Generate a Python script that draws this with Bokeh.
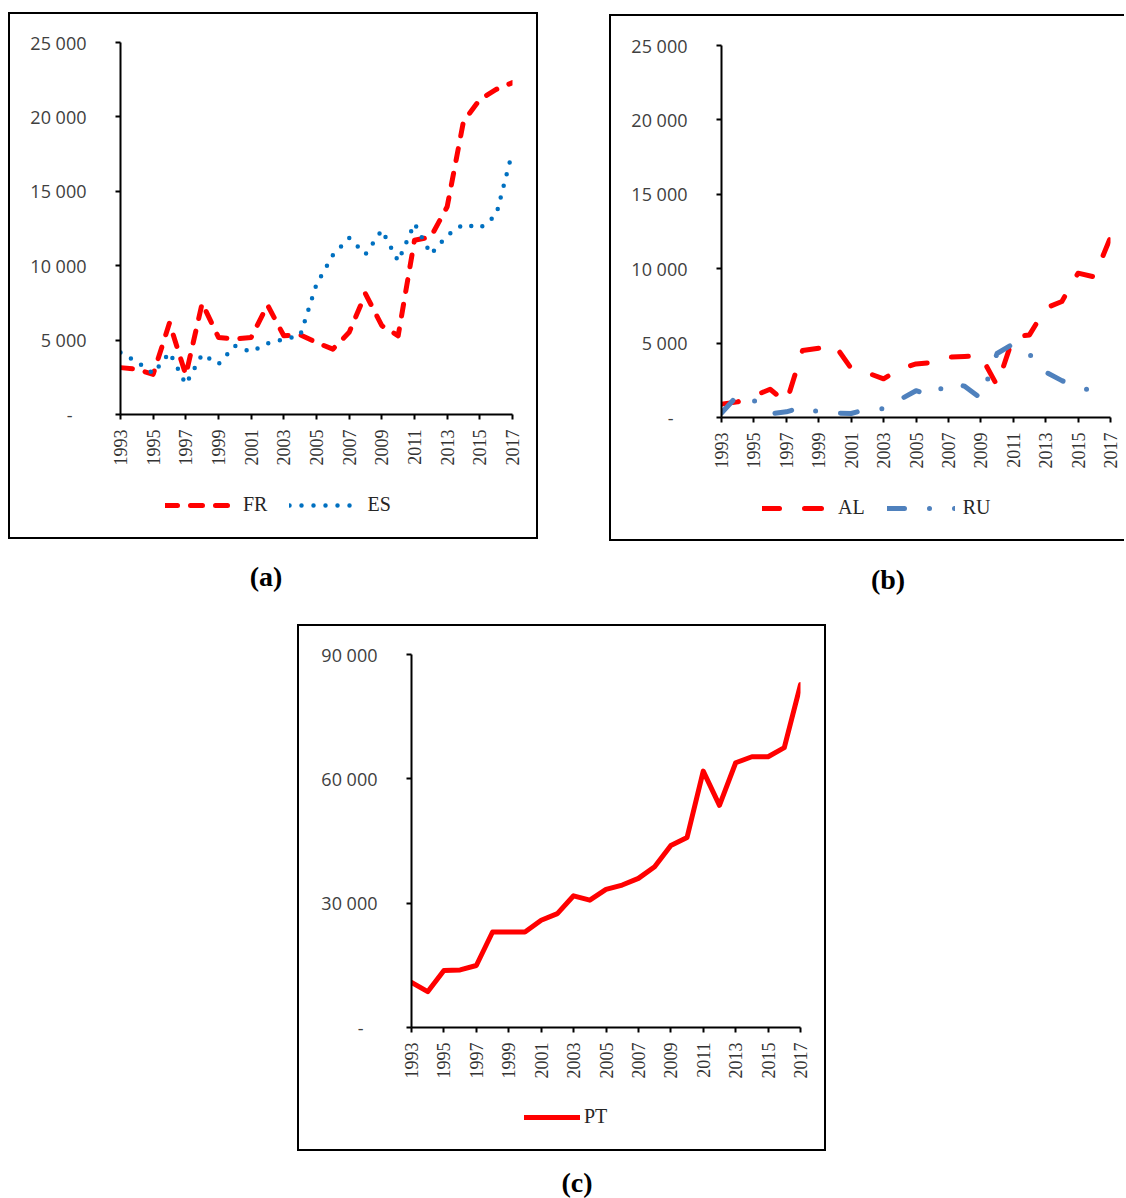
import math
from bokeh.plotting import figure
from bokeh.models import Range1d, FixedTicker, Legend, LegendItem, Div
from bokeh.layouts import column, row
from bokeh.embed import file_html
from bokeh.resources import INLINE

# ---------------- data ----------------
years = list(range(1993, 2018))
tick_years = list(range(1993, 2018, 2))

fr = [3150, 3040, 2700, 6150, 2650, 7480, 5180, 5070, 5180, 7360, 5290, 5360, 4840, 4390,
      5520, 8110, 5970, 5290, 11710, 11940, 13960, 19700, 21170, 21850, 22300]
es = [4170, 3540, 2750, 4170, 2030, 4050, 3380, 4620, 4210, 4770, 5070, 5300, 8750, 10700,
      11870, 10770, 12390, 10300, 12840, 10770, 12030, 12790, 12520, 13400, 17680]
al = [900, 1050, 1450, 1900, 1000, 4500, 4650, 4850, 3300, 3000, 2600, 3250, 3600, 3700,
      4050, 4100, 4150, 2150, 5400, 5550, 7350, 7800, 9700, 9450, 12100]
ru = [300, 1500, 1150, 250, 380, 700, 380, 300, 270, 560, 600, 1200, 1800, 1450,
      2360, 2100, 1300, 4300, 4950, 4250, 3050, 2480, 2000, 1800, 1750]
pt = [10900, 8650, 13750, 13900, 14960, 23050, 23050, 23050, 25880, 27490, 31780, 30730,
      33310, 34370, 35980, 38810, 43910, 45850, 61860, 53610, 63880, 65330, 65330, 67520, 82720]

yticks_ab = [0, 5000, 10000, 15000, 20000, 25000]
ylabels_ab = ["-\u00a0\u00a0\u00a0", "5 000", "10 000", "15 000", "20 000", "25 000"]
yticks_c = [0, 30000, 60000, 90000]
ylabels_c = ["-\u00a0\u00a0\u00a0", "30 000", "60 000", "90 000"]

SERIES = {"FR": fr, "ES": es, "AL": al, "RU": ru, "PT": pt}

SERIF = "Liberation Serif"
SANS = "Open Sans"
BORDER = "2px solid black"

STYLE = {
    "FR": dict(line_color="#FF0000", line_width=5, line_dash="12 13"),
    "ES": dict(line_color="#0070C0", line_width=4.5, line_dash="0 12"),
    "AL": dict(line_color="#FF0000", line_width=5, line_dash="17 25"),
    "RU": dict(line_color="#4F81BD", line_width=5, line_dash="17 25 0 25"),
    "PT": dict(line_color="#FF0000", line_width=5),
}


def make_fig(fw, fh, ml, mr, mt, mb, ymax, yticks, ylabels, styles):
    p = figure(frame_width=fw, frame_height=fh,
               x_range=Range1d(1993, 2017), y_range=Range1d(0, ymax),
               output_backend="svg", toolbar_location=None,
               min_border_left=ml, min_border_right=mr,
               min_border_top=mt, min_border_bottom=mb,
               background_fill_color="white", border_fill_color="white")
    p.styles = styles
    p.outline_line_color = None
    p.xgrid.visible = False
    p.ygrid.visible = False
    for ax in (p.xaxis[0], p.yaxis[0]):
        ax.axis_line_color = "black"
        ax.axis_line_width = 2
        ax.major_tick_line_color = "black"
        ax.major_tick_line_width = 2
        ax.major_tick_out = 5
        ax.major_tick_in = 0
        ax.minor_tick_out = 0
        ax.minor_tick_in = 0
    p.yaxis.ticker = FixedTicker(ticks=yticks)
    p.yaxis.major_label_overrides = {t: l for t, l in zip(yticks, ylabels)}
    p.yaxis.major_label_standoff = 29
    p.yaxis.major_label_text_font = SANS
    p.yaxis.major_label_text_font_size = "18px"
    p.yaxis.major_label_text_color = "#404040"
    p.xaxis.ticker = FixedTicker(ticks=tick_years)
    p.xaxis.major_label_overrides = {t: str(t) for t in tick_years}
    p.xaxis.major_label_orientation = math.pi / 2
    p.xaxis.major_label_standoff = 10
    p.xaxis.major_label_text_font = SERIF
    p.xaxis.major_label_text_font_size = "18px"
    p.xaxis.major_label_text_color = "#333333"
    return p


def legend_fig(fw, fh, ml, mr, names, loc, glyph_w, standoff, spacing, styles):
    # strip below each chart holding its legend (frame aligned with the chart's frame)
    lf = figure(frame_width=fw, frame_height=fh, x_range=Range1d(0, 1), y_range=Range1d(0, 1),
                x_axis_type=None, y_axis_type=None, output_backend="svg",
                toolbar_location=None, min_border_left=ml, min_border_right=mr,
                min_border_top=0, min_border_bottom=0,
                background_fill_color="white", border_fill_color="white")
    lf.styles = styles
    lf.outline_line_color = None
    items = []
    for n in names:
        # series lie outside this strip's ranges, so only the legend sample shows
        r = lf.line(years, SERIES[n], line_cap="round", line_join="round", **STYLE[n])
        items.append(LegendItem(label=n, renderers=[r]))
    lg = Legend(items=items, orientation="horizontal", location=loc,
                border_line_color=None, background_fill_alpha=0,
                padding=0, margin=0, spacing=spacing,
                label_standoff=standoff, glyph_width=glyph_w, glyph_height=20,
                label_height=20,
                label_text_font=SERIF, label_text_font_size="20px",
                label_text_color="#262626")
    lf.add_layout(lg, "center")
    return lf


# ---------------- (a) ----------------
pa = make_fig(388, 370, 110, 28, 28, 60, 25000, yticks_ab, ylabels_ab,
              {"border-left": BORDER, "border-top": BORDER, "border-right": BORDER})
pa.margin = (12, 0, 0, 8)
pa.line(years, fr, line_cap="round", line_join="round", **STYLE["FR"])
pa.line(years, es, line_cap="round", line_join="round", **STYLE["ES"])
la = legend_fig(388, 65, 110, 28, ["FR", "ES"], (45, 23), 68, 10, 22,
                {"border-left": BORDER, "border-bottom": BORDER, "border-right": BORDER})
la.margin = (0, 0, 0, 8)

# ---------------- (b) ----------------
pb = make_fig(387, 370, 110, 16, 29, 60, 25000, yticks_ab, ylabels_ab,
              {"border-left": BORDER, "border-top": BORDER})
pb.margin = (14, 0, 0, 71)
pb.line(years, al, line_cap="round", line_join="round", **STYLE["AL"])
pb.line(years, ru, line_cap="round", line_join="round", **STYLE["RU"])
lb = legend_fig(387, 64, 110, 16, ["AL", "RU"], (41, 22), 68, 8, 22,
                {"border-left": BORDER, "border-bottom": BORDER})
lb.margin = (0, 0, 0, 71)

# ---------------- (c) ----------------
pc = make_fig(385, 371, 112, 28, 28, 60, 90000, yticks_c, ylabels_c,
              {"border-left": BORDER, "border-top": BORDER, "border-right": BORDER})
pc.margin = (26, 0, 0, 297)
pc.line(years, pt, line_cap="round", line_join="round", **STYLE["PT"])
lc = legend_fig(385, 64, 112, 28, ["PT"], (113, 23), 56, 4, 20,
                {"border-left": BORDER, "border-bottom": BORDER, "border-right": BORDER})
lc.margin = (0, 0, 0, 297)

cap_style = {"font-family": SERIF, "font-size": "28px", "font-weight": "bold",
             "text-align": "center", "line-height": "36px", "color": "#000000"}
cap_a = Div(text="(a)", width=516, height=36, styles=cap_style, margin=(18, 0, 0, 8))
cap_b = Div(text="(b)", width=216, height=36, styles=cap_style, margin=(21, 0, 0, 256))
cap_c = Div(text="(c)", width=560, height=30,
            styles=dict(cap_style, **{"line-height": "30px"}), margin=(17, 0, 0, 297))

layout = column(row(column(pa, la), column(pb, lb)), row(cap_a, cap_b), pc, lc, cap_c)

open("out.html", "w").write(file_html(layout, INLINE))
